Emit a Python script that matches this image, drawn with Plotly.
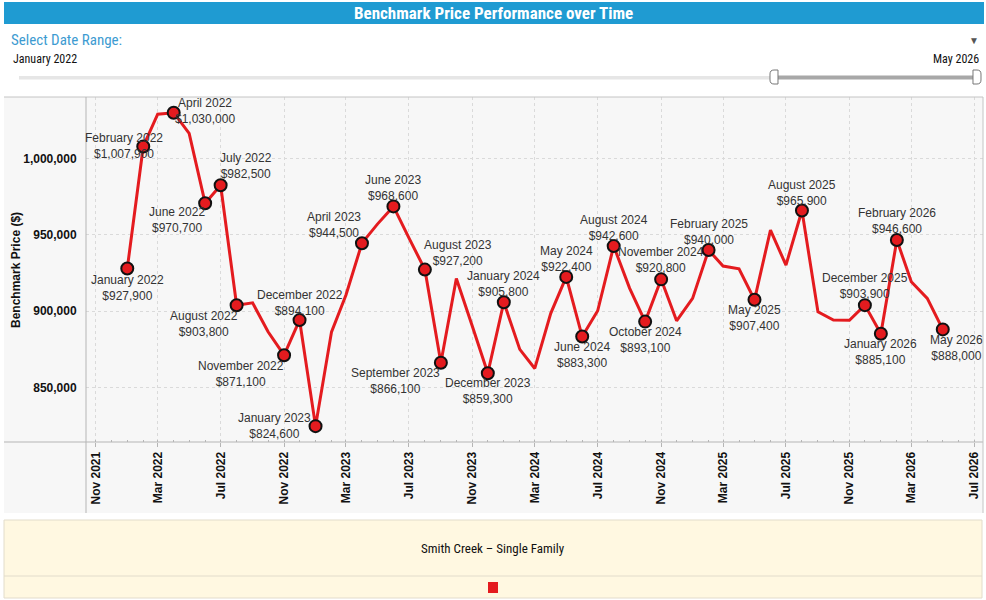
import pandas as pd
import plotly.graph_objects as go

# ---------------- data ----------------
start_month = "2022-01-01"
n_months = 53
months = pd.date_range(start_month, periods=n_months, freq="MS")

prices = [
    927900, 1007900, 1029000, 1030000, 1016400, 970700, 982500, 903800, 905400, 886400, 871100, 894100,  # 2022
    824600, 886400, 910500, 944500, 957000, 968600, 948000, 927200, 866100, 921400, 890000, 859300,   # 2023
    905800, 874900, 862400, 898500, 922400, 883300, 900200, 942600, 914900, 893100, 920800, 893600,   # 2024
    908300, 940000, 929500, 927700, 907400, 953100, 930100, 965900, 899500, 894100, 894000, 903900,   # 2025
    885100, 946600, 919200, 908300, 888000,                                                           # 2026
]

labelled_months = [
    "2022-01", "2022-02", "2022-04", "2022-06", "2022-07", "2022-08", "2022-11", "2022-12",
    "2023-01", "2023-04", "2023-06", "2023-08", "2023-09", "2023-12",
    "2024-01", "2024-05", "2024-06", "2024-08", "2024-10", "2024-11",
    "2025-02", "2025-05", "2025-08", "2025-12",
    "2026-01", "2026-02", "2026-05",
]

series_name = "Smith Creek \u2013 Single Family"
chart_title = "Benchmark Price Performance over Time"
y_title = "Benchmark Price ($)"
range_start_label = "January 2022"
range_end_label = "May 2026"

# label offsets (pixels: right, up) – styling only
label_shift = {
    "2022-01": (0, -19), "2022-02": (-19, 0), "2022-04": (31, 2), "2022-06": (-28, -17),
    "2022-07": (25, 19), "2022-08": (-33, -19), "2022-11": (-43, -19), "2022-12": (0, 17),
    "2023-01": (-41, 0), "2023-04": (-28, 18), "2023-06": (0, 18), "2023-08": (33, 17),
    "2023-09": (-45, -18), "2023-12": (0, -18), "2024-01": (0, 18), "2024-05": (0, 18),
    "2024-06": (0, -18), "2024-08": (0, 18), "2024-10": (0, -18), "2024-11": (0, 19),
    "2025-02": (0, 18), "2025-05": (0, -18), "2025-08": (0, 18), "2025-12": (0, 19),
    "2026-01": (0, -18), "2026-02": (0, 19), "2026-05": (14, -19),
}

# ---------------- layout helpers ----------------
W, H = 986, 600
L, R, T, B = 86, 983, 97, 442  # plot area in pixels


def px(x):
    return (x - L) / (R - L)


def py(y):
    return (B - y) / (B - T)


NARROW = "Liberation Sans Narrow, Arial Narrow, Roboto Condensed, Arial, sans-serif"
ARIAL = "Liberation Sans, Arial, sans-serif"
RED = "#e41b1f"
GRID = "#dadada"

fig = go.Figure()

key_index = [m.strftime("%Y-%m") for m in months]
lab_x = [months[key_index.index(k)] for k in labelled_months]
lab_y = [prices[key_index.index(k)] for k in labelled_months]

fig.add_trace(go.Scatter(
    x=months, y=prices, mode="lines", line=dict(color=RED, width=3),
    hoverinfo="skip", showlegend=False,
))
fig.add_trace(go.Scatter(
    x=lab_x, y=lab_y, mode="markers",
    marker=dict(size=12, color=RED, line=dict(color="#111111", width=2)),
    hoverinfo="skip", showlegend=False,
))

annotations = []
for k, xv, yv in zip(labelled_months, lab_x, lab_y):
    dx, dy = label_shift[k]
    annotations.append(dict(
        x=xv, y=yv, xref="x", yref="y", showarrow=False,
        text=f"{xv.strftime('%B %Y')}<br>${yv:,}",
        font=dict(family=ARIAL, size=12, color="#333333"),
        xanchor="center", yanchor="middle", xshift=dx, yshift=dy,
    ))

# header / controls
annotations += [
    dict(x=px(493), y=py(13), xref="paper", yref="paper", showarrow=False,
         text=f"<b>{chart_title}</b>", font=dict(family=NARROW, size=17, color="white"),
         xanchor="center", yanchor="middle"),
    dict(x=px(9), y=py(40), xref="paper", yref="paper", showarrow=False,
         text="Select Date Range:", font=dict(family=NARROW, size=15, color="#3d9bd1"),
         xanchor="left", yanchor="middle"),
    dict(x=px(974), y=py(41), xref="paper", yref="paper", showarrow=False,
         text="\u25BC", font=dict(family=ARIAL, size=10, color="#555555"),
         xanchor="center", yanchor="middle"),
    dict(x=px(11), y=py(59), xref="paper", yref="paper", showarrow=False,
         text=range_start_label, font=dict(family=NARROW, size=12, color="#111111"),
         xanchor="left", yanchor="middle"),
    dict(x=px(981), y=py(59), xref="paper", yref="paper", showarrow=False,
         text=range_end_label, font=dict(family=NARROW, size=12, color="#111111"),
         xanchor="right", yanchor="middle"),
    dict(x=px(16), y=py(270), xref="paper", yref="paper", showarrow=False,
         text=f"<b>{y_title}</b>", textangle=-90, font=dict(family=ARIAL, size=12, color="#111111"),
         xanchor="center", yanchor="middle"),
    dict(x=px(493), y=py(548), xref="paper", yref="paper", showarrow=False,
         text=series_name, font=dict(family=NARROW, size=13, color="#111111"),
         xanchor="center", yanchor="middle"),
]

shapes = []


def rect(x0, y0, x1, y1, fill, line_color=None, lw=0, layer="below"):
    shapes.append(dict(type="rect", xref="paper", yref="paper",
                       x0=px(x0), x1=px(x1), y0=py(y1), y1=py(y0),
                       fillcolor=fill, line=dict(color=line_color or fill, width=lw), layer=layer))


def hline(x0, x1, y, color, w=1, layer="above"):
    shapes.append(dict(type="line", xref="paper", yref="paper", x0=px(x0), x1=px(x1),
                       y0=py(y), y1=py(y), line=dict(color=color, width=w), layer=layer))


def vline(x, y0, y1, color, w=1, layer="above"):
    shapes.append(dict(type="line", xref="paper", yref="paper", x0=px(x), x1=px(x),
                       y0=py(y0), y1=py(y1), line=dict(color=color, width=w), layer=layer))


def path(points, fill, line_color, lw=1):
    d = ""
    for cmd, pts in points:
        d += cmd + " ".join(f"{px(a):.5f},{py(b):.5f}" for a, b in pts) + " "
    shapes.append(dict(type="path", xref="paper", yref="paper", path=d + "Z",
                       fillcolor=fill, line=dict(color=line_color, width=lw), layer="above"))


# title bar
rect(4, 2, 984, 24, "#1f9bd2")
# chart background region
rect(4, 97, 983, 513, "#f7f7f7")
hline(4, 983, 97, "#c4c4c4")
hline(4, 983, 442, "#b5b5b5")
vline(86, 97, 513, "#b5b5b5")
vline(983, 97, 513, "#c4c4c4")
# slider
rect(19, 76, 772, 79.5, "#e6e6e6", layer="above")
rect(776, 75.5, 975, 79.5, "#a8a8a8", layer="above")
path([("M", [(778, 70)]), ("L", [(774, 70)]), ("Q", [(770, 70), (770, 74)]), ("L", [(770, 80)]),
      ("Q", [(770, 84), (774, 84)]), ("L", [(778, 84)])], "white", "#777777", 1)
path([("M", [(973, 70)]), ("L", [(977, 70)]), ("Q", [(981, 70), (981, 74)]), ("L", [(981, 80)]),
      ("Q", [(981, 84), (977, 84)]), ("L", [(973, 84)])], "white", "#777777", 1)
# legend box
rect(4, 520, 982, 598, "#fff8e1", "#e2dccb", 1)
hline(4, 982, 576, "#e2dccb")
rect(488, 582, 498, 593, RED, layer="above")

fig.update_layout(
    width=W, height=H,
    margin=dict(l=L, r=W - R, t=T, b=H - B, pad=0),
    paper_bgcolor="white", plot_bgcolor="#f7f7f7",
    showlegend=False,
    annotations=annotations, shapes=shapes,
    font=dict(family=ARIAL, color="#111111"),
)

fig.update_xaxes(
    type="date", range=["2021-10-13", "2026-07-18"],
    tick0="2021-11-01", dtick="M4", tickformat="%b %Y", tickangle=-90,
    tickfont=dict(family=ARIAL, size=12, color="#111111", weight="bold"),
    ticks="outside", ticklen=4, tickcolor="#b5b5b5",
    showgrid=True, gridcolor=GRID, griddash="dot", gridwidth=1,
    minor=dict(dtick="M1", ticks="inside", ticklen=2, tickcolor="#b5b5b5", showgrid=False),
    showline=False, zeroline=False, fixedrange=True,
)
fig.update_yaxes(
    range=[814200, 1040300], tick0=850000, dtick=50000, tickformat=",",
    tickfont=dict(family=ARIAL, size=12, color="#111111", weight="bold"),
    ticks="outside", ticklen=6, tickcolor="rgba(0,0,0,0)",
    showgrid=True, gridcolor=GRID, griddash="dot", gridwidth=1,
    showline=False, zeroline=False, fixedrange=True,
)

fig.write_html("out.html", config={"displayModeBar": False})
